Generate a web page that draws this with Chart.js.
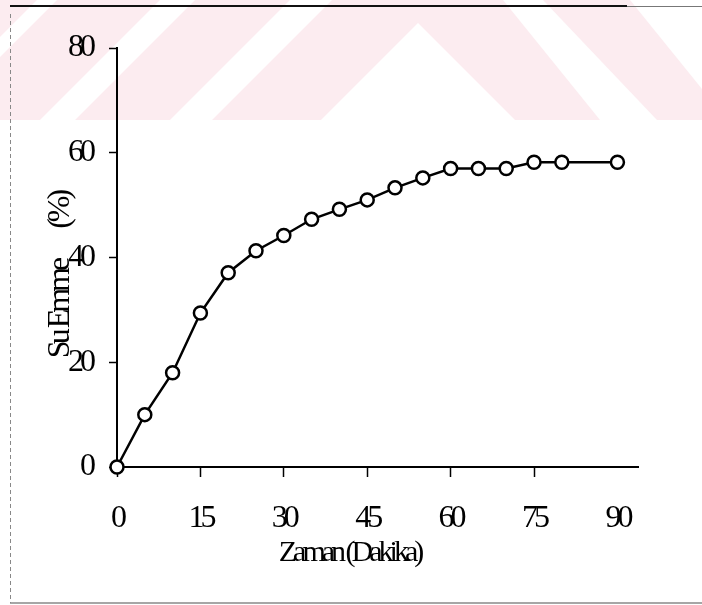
<!DOCTYPE html>
<html>
<head>
<meta charset="utf-8">
<script src="https://cdn.jsdelivr.net/npm/chart.js@4.4.1/dist/chart.umd.min.js"></script>
<style>
  html, body { margin: 0; padding: 0; background: #fff; }
  canvas { display: block; }
</style>
</head>
<body>
<canvas id="emmeChart" width="702" height="605"></canvas>
<script>
// Su emme (%) against zaman (dakika)
const zaman = [0, 5, 10, 15, 20, 25, 30, 35, 40, 45, 50, 55, 60, 65, 70, 75, 80, 90];
const suEmme = [0, 10, 18, 29.4, 37.1, 41.3, 44.2, 47.3, 49.2, 51, 53.3, 55.2, 57, 57, 57, 58.2, 58.2, 58.2];
const xTicks = [0, 15, 30, 45, 60, 75, 90];
const yTicks = [0, 20, 40, 60, 80];
const xTitle = 'Zaman (Dakika)';
const yTitle = 'Su Emme';
const yUnit = '(%)';

const SERIF = "'Liberation Serif', 'Times New Roman', serif";
const TIGHT = '-4px';

// scanned page look: pink watermark band on top, frame lines round the figure
const pagePlugin = {
    id: 'page',
    beforeLayout(chart) {
        chart.ctx.letterSpacing = TIGHT;
    },
    beforeDraw(chart) {
        const ctx = chart.ctx;
        ctx.letterSpacing = TIGHT;
        ctx.save();
        ctx.fillStyle = '#fff';
        ctx.fillRect(0, 0, chart.width, chart.height);

        ctx.fillStyle = 'rgb(252, 236, 240)';
        ctx.fillRect(0, 0, chart.width, 120);

        ctx.fillStyle = '#fff';
        const cutouts = [
            [[37, 0], [57, 0], [0, 57], [0, 37]],
            [[160, 0], [195, 0], [75, 120], [40, 120]],
            [[290, 0], [332, 0], [212, 120], [170, 120]],
            [[418, 23], [515, 120], [321, 120]],
            [[503, 0], [543, 0], [657, 120], [600, 120]],
            [[630, 0], [702, 0], [702, 89]]
        ];
        cutouts.forEach(poly => {
            ctx.beginPath();
            poly.forEach(([px, py], i) => i ? ctx.lineTo(px, py) : ctx.moveTo(px, py));
            ctx.closePath();
            ctx.fill();
        });

        // frame
        ctx.strokeStyle = '#111';
        ctx.lineWidth = 2;
        ctx.beginPath();
        ctx.moveTo(10, 6);
        ctx.lineTo(627, 6);
        ctx.stroke();
        ctx.strokeStyle = '#777';
        ctx.lineWidth = 1;
        ctx.beginPath();
        ctx.moveTo(627, 6.5);
        ctx.lineTo(702, 6.5);
        ctx.stroke();

        ctx.strokeStyle = '#888';
        ctx.lineWidth = 1.5;
        ctx.beginPath();
        ctx.moveTo(10, 603);
        ctx.lineTo(702, 603);
        ctx.stroke();

        ctx.setLineDash([4, 3]);
        ctx.lineWidth = 1;
        ctx.beginPath();
        ctx.moveTo(10.5, 14);
        ctx.lineTo(10.5, 603);
        ctx.stroke();
        ctx.restore();
    }
};

const points = zaman.map((x, i) => ({ x, y: suEmme[i] }));

new Chart(document.getElementById('emmeChart'), {
    type: 'line',
    data: {
        datasets: [{
            data: points,
            borderColor: '#000',
            borderWidth: 2.5,
            pointRadius: 6.5,
            pointBorderWidth: 2.5,
            pointBackgroundColor: '#fff',
            pointBorderColor: '#000',
            tension: 0,
            clip: false
        }]
    },
    options: {
        responsive: false,
        animation: false,
        events: [],
        layout: { padding: { left: 41, right: 64, top: 48, bottom: 34 } },
        plugins: {
            legend: { display: false },
            tooltip: { enabled: false }
        },
        scales: {
            x: {
                type: 'linear',
                min: 0,
                max: 93.7,
                afterBuildTicks: scale => { scale.ticks = xTicks.map(value => ({ value })); },
                afterFit: scale => { scale.height = 104; },
                ticks: {
                    color: '#000',
                    font: { family: SERIF, size: 32 },
                    padding: 22,
                    autoSkip: false,
                    maxRotation: 0
                },
                grid: {
                    drawOnChartArea: false,
                    tickLength: 10,
                    tickWidth: 1.5,
                    tickColor: ctx => (ctx.tick && ctx.tick.value === 90 ? 'rgba(0,0,0,0)' : '#000')
                },
                border: { color: '#000', width: 2 },
                title: {
                    display: true,
                    text: xTitle + ' '.repeat(16),
                    color: '#000',
                    font: { family: SERIF, size: 30 },
                    padding: 0
                }
            },
            y: {
                min: 0,
                max: 80,
                afterBuildTicks: scale => { scale.ticks = yTicks.map(value => ({ value })); },
                afterFit: scale => { scale.width = 76; },
                ticks: {
                    color: '#000',
                    font: { family: SERIF, size: 32 },
                    padding: 17
                },
                grid: {
                    drawOnChartArea: false,
                    tickLength: 8,
                    tickWidth: 1.5,
                    tickColor: '#000'
                },
                border: { color: '#000', width: 2 },
                title: {
                    display: true,
                    text: yTitle + ' '.repeat(8) + yUnit + ' '.repeat(9),
                    color: '#000',
                    font: { family: SERIF, size: 32 },
                    padding: 0
                }
            }
        }
    },
    plugins: [pagePlugin]
});
</script>
</body>
</html>
